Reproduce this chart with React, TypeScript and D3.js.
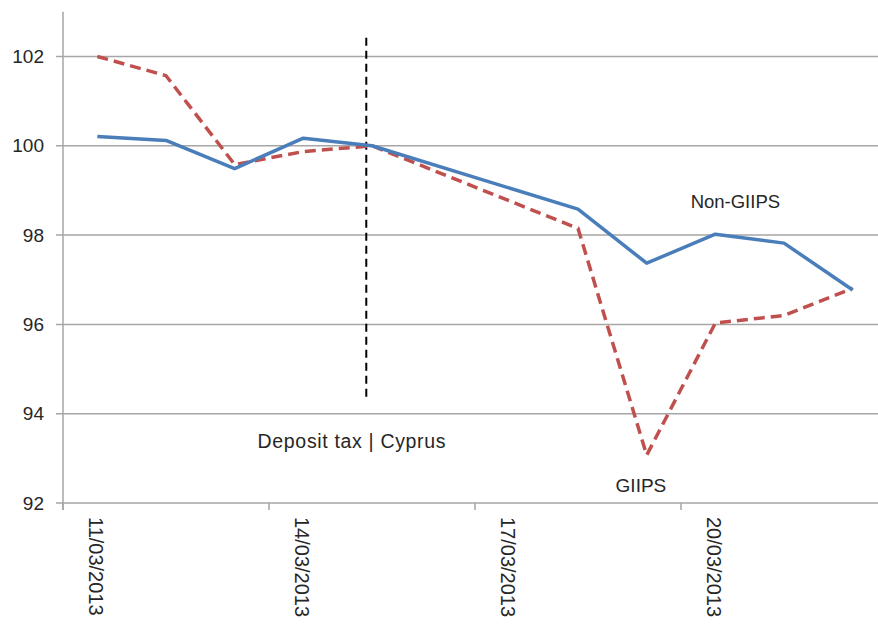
import * as d3 from "d3";

const dates = [
  "2013-03-11", "2013-03-12", "2013-03-13", "2013-03-14", "2013-03-15",
  "2013-03-18", "2013-03-19", "2013-03-20", "2013-03-21", "2013-03-22",
];
const nonGiips = [100.21, 100.12, 99.49, 100.17, 100.0, 98.58, 97.37, 98.02, 97.82, 96.77];
const giips = [102.0, 101.57, 99.58, 99.87, 100.0, 98.15, 93.07, 96.03, 96.2, 96.81];
const yTicks = [92, 94, 96, 98, 100, 102];
const xLabelDates = ["2013-03-11", "2013-03-14", "2013-03-17", "2013-03-20"];

const parse = d3.timeParse("%Y-%m-%d");
const fmt = d3.timeFormat("%d/%m/%Y");

const W = 878;
const H = 625;

const x = d3
  .scaleTime()
  .domain([new Date(2013, 2, 10, 12), new Date(2013, 2, 22, 12)])
  .range([63, 887]);
const y = d3.scaleLinear().domain([92, 103]).range([503, 11.8]);

const gridColor = "#a6a6a6";
const textColor = "#262626";

const App = () => {
  const pts = dates.map((d) => parse(d) as Date);
  const line = d3
    .line<number>()
    .x((_, i) => x(pts[i]))
    .y((d) => y(d));

  const tickDates = d3.timeDay.every(3)!.range(new Date(2013, 2, 10), new Date(2013, 2, 23))
    .map((d) => d3.timeHour.offset(d, 12));
  const eventDate = new Date(2013, 2, 14, 22);

  return (
    <svg
      width={W}
      height={H}
      style={{ position: "absolute", left: 0, top: 0, background: "#fff" }}
      fontFamily="'Liberation Sans', Arial, sans-serif"
    >
      {/* horizontal gridlines */}
      {yTicks.slice(1).map((t) => (
        <line key={t} x1={56} x2={W} y1={y(t)} y2={y(t)} stroke={gridColor} strokeWidth={1.5} />
      ))}
      {/* left axis */}
      <line x1={63} x2={63} y1={y(103)} y2={y(92) + 7} stroke={gridColor} strokeWidth={1.5} />
      {/* bottom axis */}
      <line x1={56} x2={W} y1={y(92)} y2={y(92)} stroke={gridColor} strokeWidth={1.5} />
      {tickDates.map((d, i) => (
        <line key={i} x1={x(d)} x2={x(d)} y1={y(92)} y2={y(92) + 7} stroke={gridColor} strokeWidth={1.5} />
      ))}
      {yTicks.map((t) => (
        <text key={t} x={44} y={y(t)} dy="0.35em" textAnchor="end" fontSize={19} fill={textColor}>
          {t}
        </text>
      ))}
      {xLabelDates.map((s) => {
        const d = parse(s) as Date;
        return (
          <text
            key={s}
            transform={`translate(${x(d) - 1},${517}) rotate(90)`}
            dy="0.35em"
            fontSize={20}
            fill={textColor}
          >
            {fmt(d)}
          </text>
        );
      })}

      {/* event marker */}
      <line
        x1={x(eventDate)}
        x2={x(eventDate)}
        y1={y(102.42)}
        y2={y(94.3)}
        stroke="#000"
        strokeWidth={2}
        strokeDasharray="8,5"
      />

      <path d={line(giips) ?? ""} fill="none" stroke="#c0504d" strokeWidth={3.5} strokeDasharray="11,6" />
      <path d={line(nonGiips) ?? ""} fill="none" stroke="#4a7ebb" strokeWidth={3.5} strokeLinejoin="round" />

      <text x={x(new Date(2013, 2, 20, 7))} y={y(98.6)} textAnchor="middle" fontSize={18.5} fill={textColor}>
        Non-GIIPS
      </text>
      <text x={x(new Date(2013, 2, 18, 22))} y={y(92.25)} textAnchor="middle" fontSize={19} fill={textColor}>
        GIIPS
      </text>
      <text
        x={x(new Date(2013, 2, 13, 8))}
        y={y(93.23)}
        fontSize={19.5}
        fill={textColor}
        textLength={188}
        lengthAdjust="spacing"
      >
        Deposit tax | Cyprus
      </text>
    </svg>
  );
};

export default App;
